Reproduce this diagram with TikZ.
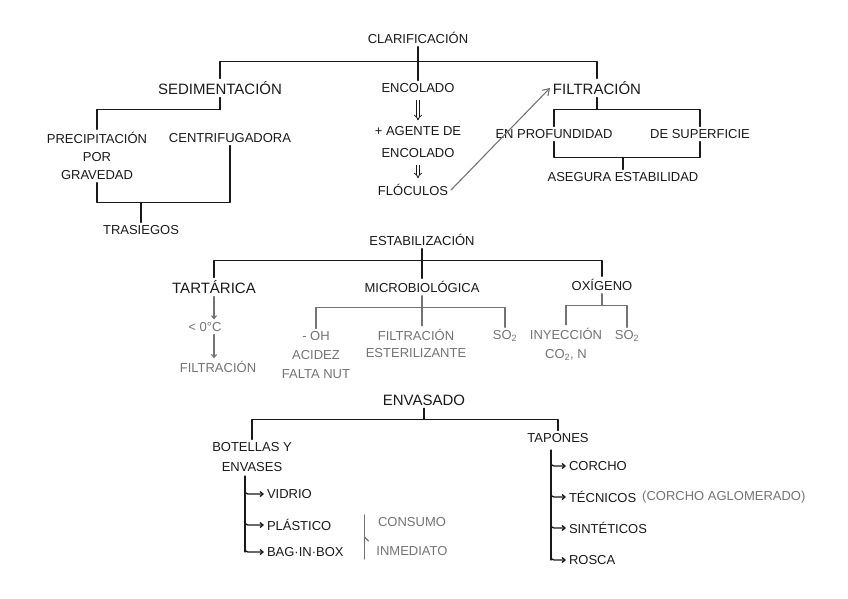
\documentclass[tikz,border=0pt]{standalone}
\usepackage{fontspec}
\setmainfont{Liberation Sans}
\usepackage{xcolor}
\usetikzlibrary{arrows.meta, positioning}
\definecolor{inkblack}{RGB}{25, 25, 25}
\definecolor{inkgray}{RGB}{115, 115, 115}

\begin{document}
\begin{tikzpicture}[x=1pt, y=-1pt,
    every node/.style={font=\fontsize{13}{20}\selectfont, inner sep=1pt, outer sep=2pt, text=inkblack},
    wide/.style={font=\fontsize{15}{20}\selectfont},
    faint/.style={text=inkgray},
    link/.style={draw=inkblack, line width=1.3pt, line cap=round, line join=round},
    soft/.style={link, draw=inkgray, line width=1.1pt},
    hook/.style={-{Straight Barb[length=3pt, width=5pt]}},
    dbl/.style={draw=inkblack, double=white, double distance=2pt, line width=0.8pt,
        shorten <=4pt, shorten >=3pt, -{Implies[length=4pt]}}]
    \useasboundingbox (0,0) rectangle (848,599);

    % clarificacion
    \node (clar) at (418,38) {CLARIFICACIÓN};
    \node[wide] (sed) at (220,88) {SEDIMENTACIÓN};
    \node (enc) at (418,88) {ENCOLADO};
    \node[wide] (fil) at (597,88) {FILTRACIÓN};
    \node[align=center, font=\fontsize{13}{18}\selectfont] (prec) at (97,156) {PRECIPITACIÓN\\POR\\GRAVEDAD};
    \node (cent) at (230,138) {CENTRIFUGADORA};
    \node (tras) at (141,230) {TRASIEGOS};
    \node[align=center, font=\fontsize{13}{22}\selectfont] (agente) at (418,142) {+ AGENTE DE\\ENCOLADO};
    \node (floc) at (413,190) {FLÓCULOS};
    \node (prof) at (554,134) {EN PROFUNDIDAD};
    \node (sup) at (700,134) {DE SUPERFICIE};
    \node (aseg) at (623,177) {ASEGURA ESTABILIDAD};

    \draw[link] (clar.south) -- ++(0,15) coordinate (clarbar) -- (enc.north);
    \draw[link] (sed.north) |- (clarbar) -| (fil.north);
    \draw[link] (sed.south) -- ++(0,12) coordinate (sedbar);
    \draw[link] (sedbar) -| (prec.north);
    \draw[link] (tras.north) -- ++(0,-20) coordinate (trasbar);
    \draw[link] (prec.south) |- (trasbar) -| (cent.south);
    \draw[dbl] (enc.south) -- (enc.south |- agente.north);
    \draw[dbl] (enc.south |- agente.south) -- (enc.south |- floc.north);
    \draw[soft, -{Straight Barb[length=6pt, width=8pt]}] (floc.east) -- (fil.west);
    \draw[link] (fil.south) -- ++(0,12) coordinate (filbar);
    \draw[link] (prof.north) |- (filbar) -| (sup.north);
    \draw[link] (aseg.north) -- ++(0,-12) coordinate (asegbar);
    \draw[link] (prof.south) |- (asegbar) -| (sup.south);

    % estabilizacion
    \node (estab) at (422,240) {ESTABILIZACIÓN};
    \node[wide] (tart) at (214,287) {TARTÁRICA};
    \node[faint] (frio) at (205,327) {< 0°C};
    \node[faint] (tfil) at (218,367) {FILTRACIÓN};
    \node (micro) at (422,287) {MICROBIOLÓGICA};
    \node[faint, align=center, font=\fontsize{13}{19}\selectfont] (acid) at (316,355) {- OH\\ACIDEZ\\FALTA NUT};
    \node[faint, align=center, font=\fontsize{13}{17}\selectfont] (mfil) at (416,343) {FILTRACIÓN\\ESTERILIZANTE};
    \node[faint] (mso) at (505,336) {SO\textsubscript{2}};
    \node (oxi) at (602,285) {OXÍGENO};
    \node[faint, align=center, font=\fontsize{13}{19}\selectfont] (iny) at (566,344) {INYECCIÓN\\CO\textsubscript{2}, N};
    \node[faint] (oso) at (627,336) {SO\textsubscript{2}};

    \draw[link] (estab.south) -- ++(0,12) coordinate (estbar) -- (micro.north);
    \draw[link] (tart.north) |- (estbar) -| (oxi.north);
    \draw[soft, hook] (tart.south) -- (tart.south |- frio.north);
    \draw[soft, hook] (tart.south |- frio.south) -- (tart.south |- tfil.north);
    \draw[soft] (micro.south) -- ++(0,12) coordinate (microbar) -- (microbar |- mfil.north);
    \draw[soft] (acid.north) |- (microbar) -| (mso.north);
    \draw[soft] (oxi.south) -- ++(0,12) coordinate (oxibar);
    \draw[soft] (iny.north) |- (oxibar) -| (oso.north);

    % envasado
    \node[wide] (env) at (424,400) {ENVASADO};
    \node[align=center] (bot) at (252,457) {BOTELLAS Y\\ENVASES};
    \node[anchor=west] (vid) at (264,494) {VIDRIO};
    \node[anchor=west] (plas) at (264,525) {PLÁSTICO};
    \node[anchor=west] (bag) at (264,552) {BAG·IN·BOX};
    \node[faint, align=center, font=\fontsize{13}{29}\selectfont] (cons) at (412,537) {CONSUMO\\INMEDIATO};
    \node (tap) at (558,438) {TAPONES};
    \node[anchor=west] (cor) at (566,466) {CORCHO};
    \node[anchor=west] (tec) at (566,497) {TÉCNICOS};
    \node[faint, right=0pt of tec] (agl) {(CORCHO AGLOMERADO)};
    \node[anchor=west] (sin) at (566,528) {SINTÉTICOS};
    \node[anchor=west] (ros) at (566,560) {ROSCA};

    \draw[link] (env.south) -- ++(0,11) coordinate (envbar);
    \draw[link] (bot.north) |- (envbar) -| (tap.north);
    \coordinate (botstem) at (245,476);
    \draw[link] (botstem) -- (botstem |- bag.west);
    \foreach \n in {vid, plas, bag}
        \draw[link, hook, rounded corners=3pt] (botstem |- \n.west) ++(0,-6) |- (\n.west);
    \coordinate (tapstem) at (551,450);
    \draw[link] (tapstem) -- (tapstem |- ros.west);
    \foreach \n in {cor, tec, sin, ros}
        \draw[link, hook, rounded corners=3pt] (tapstem |- \n.west) ++(0,-6) |- (\n.west);
    \draw[soft] ([xshift=-9pt]cons.north west) -- ([xshift=-9pt]cons.south west);
    \draw[soft] ([xshift=-9pt]cons.west) -- ++(4,4);
\end{tikzpicture}
\end{document}
